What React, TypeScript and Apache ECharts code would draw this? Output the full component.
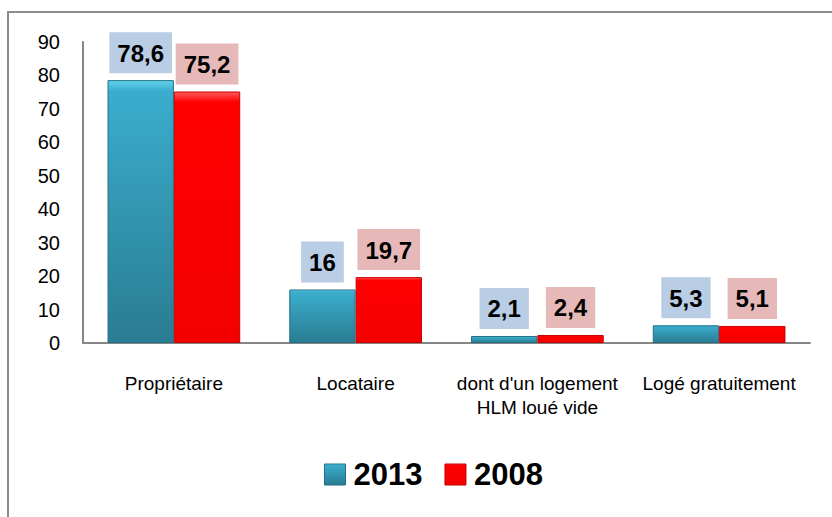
import React, { useEffect, useRef } from "react";
import * as echarts from "echarts";

const categories = ["Propriétaire", "Locataire", "dont d'un logement\nHLM loué vide", "Logé gratuitement"];
const values2013 = [78.6, 16, 2.1, 5.3];
const values2008 = [75.2, 19.7, 2.4, 5.1];
const seriesNames = ["2013", "2008"];
const yTicks = { min: 0, max: 90, interval: 10 };

const FONT = "'Liberation Sans Narrow', 'Arial Narrow', 'Liberation Sans', Arial, sans-serif";

const blueGrad = new echarts.graphic.LinearGradient(0, 0, 0, 1, [
  { offset: 0, color: "#63d2ee" },
  { offset: 0.04, color: "#3aadcd" },
  { offset: 1, color: "#2a7c92" },
]);
const redGrad = new echarts.graphic.LinearGradient(0, 0, 0, 1, [
  { offset: 0, color: "#ff5a5a" },
  { offset: 0.04, color: "#ff0000" },
  { offset: 1, color: "#f20000" },
]);

const fmt = (v: number) => String(v).replace(".", ",");

export default function App() {
  const ref = useRef<HTMLDivElement>(null);
  useEffect(() => {
    if (!ref.current) return;
    const chart = echarts.init(ref.current, null, { renderer: "svg" });
    const labelBase = (bg: string) => ({
      show: true,
      position: "top" as const,
      distance: 7,
      formatter: (p: any) => fmt(p.value),
      fontFamily: FONT,
      fontWeight: "bold" as const,
      fontSize: 24,
      lineHeight: 26,
      color: "#000",
      backgroundColor: bg,
      padding: [8, 8, 7, 8],
    });
    chart.setOption({
      animation: false,
      backgroundColor: "#fff",
      graphic: [
        {
          type: "rect",
          shape: { x: 8, y: 12, width: 900, height: 600 },
          style: { fill: "none", stroke: "#8c8c8c", lineWidth: 2 },
          silent: true,
        },
      ],
      grid: { left: 83, right: 22, top: 42, bottom: 174, containLabel: false },
      legend: {
        bottom: 22,
        left: 319,
        itemWidth: 21,
        itemHeight: 21,
        itemGap: 22,
        textStyle: { fontFamily: FONT, fontWeight: "bold", fontSize: 31, color: "#000", padding: [0, 0, 0, 3] },
        data: [
          { name: seriesNames[0], icon: "rect", itemStyle: { color: blueGrad, borderColor: "#236f83", borderWidth: 1 } },
          { name: seriesNames[1], icon: "rect", itemStyle: { color: redGrad, borderColor: "#c80000", borderWidth: 1 } },
        ],
      },
      xAxis: {
        type: "category",
        data: categories,
        axisLine: { lineStyle: { color: "#868686", width: 2 } },
        axisTick: { show: false },
        axisLabel: {
          fontFamily: FONT,
          fontSize: 19,
          lineHeight: 24,
          color: "#000",
          margin: 28,
          interval: 0,
        },
      },
      yAxis: {
        type: "value",
        min: yTicks.min,
        max: yTicks.max,
        interval: yTicks.interval,
        axisLine: { show: true, lineStyle: { color: "#868686", width: 2 } },
        axisTick: { show: false },
        splitLine: { show: false },
        axisLabel: { fontFamily: FONT, fontSize: 20, color: "#000", margin: 23 },
      },
      series: [
        {
          name: seriesNames[0],
          type: "bar",
          data: values2013,
          barGap: "0%",
          barCategoryGap: "27%",
          itemStyle: { color: blueGrad, borderColor: "#236f83", borderWidth: 1 },
          label: labelBase("#b9cde5"),
        },
        {
          name: seriesNames[1],
          type: "bar",
          data: values2008,
          barGap: "0%",
          barCategoryGap: "27%",
          itemStyle: { color: redGrad, borderColor: "#c80000", borderWidth: 1 },
          label: labelBase("#e6b9b8"),
        },
      ],
    });
    return () => chart.dispose();
  }, []);
  return (
    <div
      ref={ref}
      style={{ position: "fixed", left: 0, top: 0, width: 832, height: 517, background: "#fff" }}
    />
  );
}
